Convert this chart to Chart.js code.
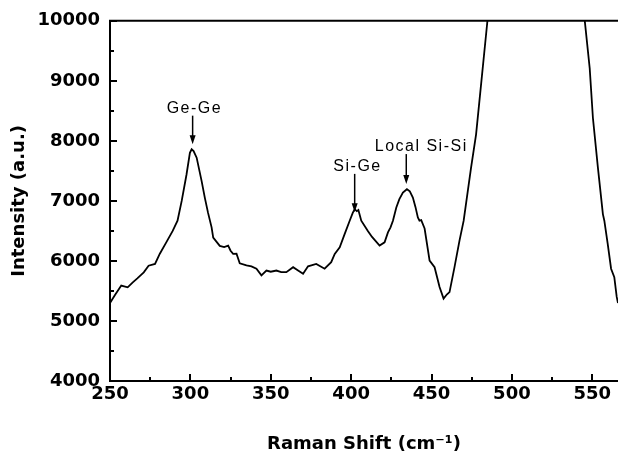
<!DOCTYPE html>
<html>
<head>
<meta charset="utf-8">
<script src="https://cdn.jsdelivr.net/npm/chart.js@4/dist/chart.umd.min.js"></script>
<style>
    html, body { margin: 0; padding: 0; background: #fff; }
    #wrap { width: 618px; height: 455px; }
</style>
</head>
<body>
<div id="wrap"><canvas id="raman"></canvas></div>
<script>
// Raman spectrum
const ramanShift = [
    250, 253, 257, 261, 264, 267, 271, 274, 278, 281, 285, 289, 292, 294.6, 297.6, 299.7,
    300.8, 302, 303.9, 307, 309, 311, 313.2, 314.2, 318.3, 321, 323.5, 325, 326.6, 328.7,
    330.7, 334.9, 338, 341.1, 344.2, 347.3, 350, 353.5, 356.5, 359.7, 363.9, 367, 370.1,
    373.2, 378.3, 383.5, 387.6, 389.8, 392.9, 396, 399.1, 401, 402.2, 403.5, 404.5, 406.3,
    410.4, 413, 417.7, 420.8, 422.9, 424.5, 426, 428.1, 430, 432.2, 434.7, 436.5, 438.4,
    440, 441.5, 442.5, 443.6, 445.7, 448.8, 451.9, 455, 457.5, 459.5, 461.2, 464.3, 467.4,
    470, 474.6, 477.7, 480.8, 483.9, 487, 515, 543, 548.4, 550.4, 553.5, 556.6, 557.5,
    559.6, 561.7, 563.7, 565.2, 566
];
const intensity = [
    5300, 5430, 5590, 5560, 5640, 5710, 5810, 5920, 5950, 6120, 6310, 6500, 6670, 7000, 7440, 7800,
    7860, 7830, 7720, 7330, 7050, 6800, 6560, 6390, 6250, 6230, 6255, 6170, 6117, 6120,
    5960, 5925, 5910, 5870, 5760, 5840, 5820, 5840, 5815, 5813, 5896, 5840, 5786,
    5910, 5950, 5870, 5980, 6117, 6227, 6450, 6670, 6800, 6863, 6830, 6850, 6670,
    6500, 6400, 6255, 6310, 6476, 6560, 6670, 6890, 7030, 7138, 7194, 7160, 7056,
    6900, 6724, 6670, 6680, 6540, 6006, 5896, 5565, 5372, 5440, 5481, 5896, 6338,
    6670, 7553, 8105, 8934, 9763, 10600, 14000, 10600, 9210, 8381, 7553, 6780, 6670,
    6283, 5870, 5730, 5400, 5300
];

// Peak labels with arrows (data units)
const peakNames = ['Ge-Ge', 'Si-Ge', 'Local Si-Si'];
const peakArrowX = [301.4, 402.2, 434.3];
const peakArrowTop = [8420, 7450, 7780];
const peakArrowTip = [7945, 6810, 7280];
const peakTextX = [302.5, 404, 443.6];
const peakTextY = [8459, 7498, 7829];

const X_MIN = 250, X_MAX = 566;
const Y_MIN = 4000, Y_MAX = 10000;

// Inward ticks, top frame and peak annotations
const framePlugin = {
    id: 'frame',
    afterDatasetsDraw(chart) {
        const ctx = chart.ctx;
        const area = chart.chartArea;
        const xs = chart.scales.x;
        const ys = chart.scales.y;
        ctx.save();
        ctx.strokeStyle = '#000';
        ctx.lineWidth = 2;
        ctx.beginPath();
        ctx.moveTo(area.left - 1, area.top);
        ctx.lineTo(area.right, area.top);
        ctx.stroke();

        for (let v = X_MIN; v <= X_MAX; v += 25) {
            const px = Math.round(xs.getPixelForValue(v));
            const len = v % 50 === 0 ? 7 : 4;
            ctx.beginPath();
            ctx.moveTo(px, area.bottom);
            ctx.lineTo(px, area.bottom - len);
            ctx.stroke();
        }
        for (let v = Y_MIN; v <= Y_MAX; v += 500) {
            const py = Math.round(ys.getPixelForValue(v));
            const len = v % 1000 === 0 ? 7 : 4;
            ctx.beginPath();
            ctx.moveTo(area.left, py);
            ctx.lineTo(area.left + len, py);
            ctx.stroke();
        }

        ctx.lineWidth = 1.5;
        ctx.fillStyle = '#000';
        ctx.font = '16px "Liberation Sans", Arial, sans-serif';
        ctx.letterSpacing = '1.5px';
        ctx.textAlign = 'center';
        ctx.textBaseline = 'alphabetic';
        peakNames.forEach((name, i) => {
            ctx.fillText(name, xs.getPixelForValue(peakTextX[i]), ys.getPixelForValue(peakTextY[i]));
            const ax = xs.getPixelForValue(peakArrowX[i]);
            const top = ys.getPixelForValue(peakArrowTop[i]);
            const tip = ys.getPixelForValue(peakArrowTip[i]);
            ctx.beginPath();
            ctx.moveTo(ax, top);
            ctx.lineTo(ax, tip - 6);
            ctx.stroke();
            ctx.beginPath();
            ctx.moveTo(ax, tip);
            ctx.lineTo(ax - 3, tip - 9);
            ctx.lineTo(ax + 3, tip - 9);
            ctx.closePath();
            ctx.fill();
        });
        ctx.restore();
    }
};

const points = ramanShift.map((x, i) => ({ x: x, y: intensity[i] }));
const tickFont = { family: '"DejaVu Sans"', size: 18, weight: 'bold' };

new Chart(document.getElementById('raman'), {
    type: 'line',
    data: {
        datasets: [{
            data: points,
            borderColor: '#000',
            borderWidth: 1.8,
            pointRadius: 0,
            tension: 0,
            fill: false
        }]
    },
    options: {
        responsive: true,
        maintainAspectRatio: false,
        animation: false,
        devicePixelRatio: 1,
        layout: { padding: { top: 19, right: 0, left: 0, bottom: 0 } },
        plugins: {
            legend: { display: false },
            tooltip: { enabled: false }
        },
        scales: {
            x: {
                type: 'linear',
                min: X_MIN,
                max: X_MAX,
                afterFit(scale) { scale.height = 74; },
                grid: { display: false, drawTicks: false },
                border: { display: true, color: '#000', width: 2 },
                ticks: {
                    stepSize: 50,
                    includeBounds: false,
                    maxRotation: 0,
                    padding: 3,
                    color: '#000',
                    font: tickFont,
                    callback: (v) => String(v)
                },
                title: {
                    display: true,
                    text: 'Raman Shift (cm\u207B\u00B9)',
                    color: '#000',
                    padding: { top: 0, bottom: 0 },
                    font: tickFont
                }
            },
            y: {
                min: Y_MIN,
                max: Y_MAX,
                afterFit(scale) { scale.width = 110; },
                grid: { display: false, drawTicks: false },
                border: { display: true, color: '#000', width: 2 },
                ticks: {
                    stepSize: 1000,
                    padding: 10,
                    color: '#000',
                    font: tickFont,
                    callback: (v) => String(v)
                },
                title: {
                    display: true,
                    text: 'Intensity (a.u.)',
                    color: '#000',
                    padding: { top: 9, bottom: 0 },
                    font: tickFont
                }
            }
        }
    },
    plugins: [framePlugin]
});
</script>
</body>
</html>
